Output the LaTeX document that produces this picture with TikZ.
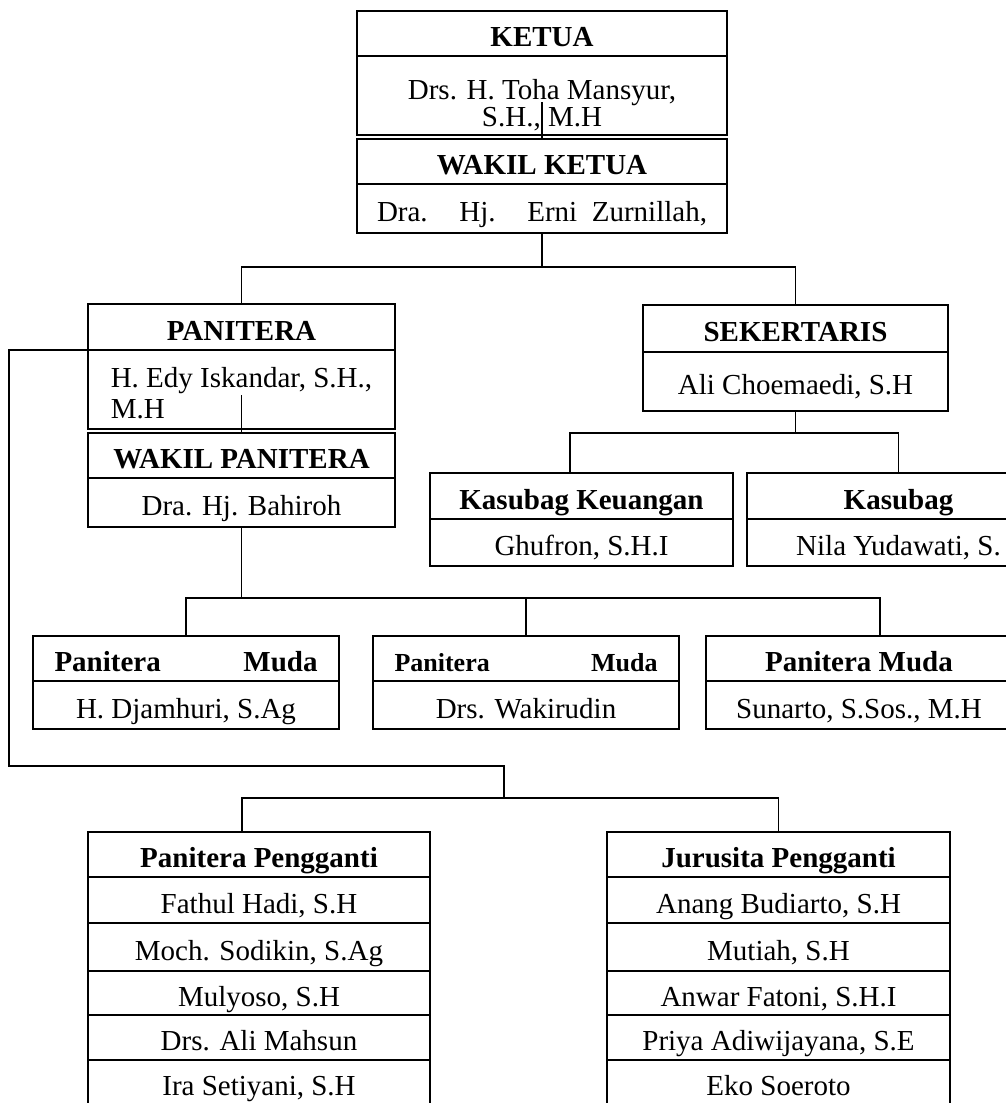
\documentclass[tikz,border=0pt]{standalone}
\usepackage{fontspec}
\setmainfont{Liberation Serif}
\usetikzlibrary{positioning}

\tikzset{
  base/.style={draw,line width=0.9pt,outer sep=0pt,inner sep=0pt,align=center,font=\fontsize{14.5}{15}\selectfont},
  cell/.style={base,text height=13pt,text depth=0pt},
  head/.style={cell,font=\fontsize{14.5}{15}\selectfont\bfseries},
  link/.style={line width=0.9pt},
}

\begin{document}
\begin{tikzpicture}[x=0.5pt,y=-0.5pt]
        \useasboundingbox (0,0) rectangle (1006,1103);
        \clip (0,0) rectangle (1006,1103);

        % ketua dan wakil ketua
        \node[head,anchor=north west,minimum width=185pt,minimum height=22.5pt] (ketua) at (357,11) {KETUA};
        \node[base,minimum width=185pt,minimum height=39.5pt,below=0pt of ketua,font=\fontsize{14.5}{13.5}\selectfont] (ketuaNama) {\rule{0pt}{20pt}Drs. H. Toha Mansyur,\\S.H., M.H};
        \node[head,minimum width=185pt,minimum height=22.5pt,below=2pt of ketuaNama] (wakil) {WAKIL KETUA};
        \node[cell,minimum width=185pt,minimum height=24.5pt,below=0pt of wakil] (wakilNama) {\makebox[165pt][s]{Dra. Hj. Erni Zurnillah,}};

        % panitera dan wakil panitera
        \node[head,anchor=north west,minimum width=153.5pt,minimum height=23pt] (panitera) at (88,304) {PANITERA};
        \node[base,align=left,minimum width=153.5pt,minimum height=39.5pt,below=0pt of panitera,font=\fontsize{14.5}{15.5}\selectfont] (paniteraNama) {\rule{0pt}{14pt}H. Edy Iskandar, S.H.,\\M.H};
        \node[head,minimum width=153.5pt,minimum height=22.5pt,below=2pt of paniteraNama] (wakpan) {WAKIL PANITERA};
        \node[cell,minimum width=153.5pt,minimum height=24.5pt,below=0pt of wakpan] (wakpanNama) {Dra. Hj. Bahiroh};

        % sekertaris
        \node[head,anchor=north west,minimum width=152.5pt,minimum height=23.5pt] (sekretaris) at (643,305) {SEKERTARIS};
        \node[cell,minimum width=152.5pt,minimum height=29.5pt,below=0pt of sekretaris] (sekretarisNama) {Ali Choemaedi, S.H};

        % kasubag
        \node[head,anchor=north west,minimum width=151.5pt,minimum height=23pt] (keuangan) at (430,473) {Kasubag Keuangan};
        \node[cell,minimum width=151.5pt,minimum height=23.5pt,below=0pt of keuangan] (keuanganNama) {Ghufron, S.H.I};
        \node[head,anchor=north west,minimum width=151.5pt,minimum height=23pt] (kasubag) at (747,473) {Kasubag};
        \node[cell,minimum width=151.5pt,minimum height=23.5pt,below=0pt of kasubag] (kasubagNama) {Nila Yudawati, S.};

        % panitera muda
        \node[head,anchor=north west,minimum width=153pt,minimum height=22.5pt] (muda1) at (33,636) {\makebox[131.5pt]{Panitera\hfill Muda}};
        \node[cell,minimum width=153pt,minimum height=24pt,below=0pt of muda1] (muda1Nama) {H. Djamhuri, S.Ag};
        \node[head,anchor=north west,minimum width=153pt,minimum height=22.5pt,font=\fontsize{13}{14}\selectfont\bfseries] (muda2) at (373,636) {\makebox[131.5pt]{Panitera\hfill Muda}};
        \node[cell,minimum width=153pt,minimum height=24pt,below=0pt of muda2] (muda2Nama) {Drs. Wakirudin};
        \node[head,anchor=north west,minimum width=153pt,minimum height=22.5pt] (muda3) at (706,636) {Panitera Muda};
        \node[cell,minimum width=153pt,minimum height=24pt,below=0pt of muda3] (muda3Nama) {Sunarto, S.Sos., M.H};

        % panitera pengganti
        \node[head,anchor=north west,minimum width=171pt,minimum height=22.5pt] (pengganti) at (88,832) {Panitera Pengganti};
        \node[cell,minimum width=171pt,minimum height=23pt,below=0pt of pengganti] (pp1) {Fathul Hadi, S.H};
        \node[cell,minimum width=171pt,minimum height=24pt,below=0pt of pp1] (pp2) {Moch. Sodikin, S.Ag};
        \node[cell,minimum width=171pt,minimum height=22pt,below=0pt of pp2] (pp3) {Mulyoso, S.H};
        \node[cell,minimum width=171pt,minimum height=22.5pt,below=0pt of pp3] (pp4) {Drs. Ali Mahsun};
        \node[cell,minimum width=171pt,minimum height=22.5pt,below=0pt of pp4] (pp5) {Ira Setiyani, S.H};

        % jurusita pengganti
        \node[head,anchor=north west,minimum width=171.5pt,minimum height=22.5pt] (jurusita) at (607,832) {Jurusita Pengganti};
        \node[cell,minimum width=171.5pt,minimum height=23pt,below=0pt of jurusita] (js1) {Anang Budiarto, S.H};
        \node[cell,minimum width=171.5pt,minimum height=24pt,below=0pt of js1] (js2) {Mutiah, S.H};
        \node[cell,minimum width=171.5pt,minimum height=22pt,below=0pt of js2] (js3) {Anwar Fatoni, S.H.I};
        \node[cell,minimum width=171.5pt,minimum height=22.5pt,below=0pt of js3] (js4) {Priya Adiwijayana, S.E};
        \node[cell,minimum width=171.5pt,minimum height=22.5pt,below=0pt of js4] (js5) {Eko Soeroto};

        % garis
        \coordinate (ketuaTurun) at (542,102);
        \coordinate (cabang1) at (542,267);
        \draw[link] (ketuaTurun) -- (wakil.north);
        \draw[link] (wakilNama.south) -- (cabang1);
        \draw[link] (panitera.north) |- (cabang1) -| (sekretaris.north);

        \coordinate (paniteraTurun) at (241.5,395);
        \coordinate (cabang2) at (241.5,598);
        \draw[link] (paniteraTurun) -- (wakpan.north);
        \draw[link] (wakpanNama.south) -- (cabang2);
        \draw[link] (muda1.north) |- (cabang2) -| ([xshift=10.5pt]muda3.north);
        \draw[link] (muda2.north) -- (muda2.north |- cabang2);

        \coordinate (cabang3) at (795.5,433);
        \draw[link] (sekretarisNama.south) -- (cabang3);
        \draw[link] ([xshift=-5.75pt]keuangan.north) |- (cabang3) -| (kasubag.north);

        \coordinate (bingkai) at (9,766);
        \coordinate (cabang4) at (504,798);
        \draw[link] (panitera.south west) -| (bingkai) -| (cabang4);
        \draw[link] ([xshift=-8.5pt]pengganti.north) |- (cabang4) -| (jurusita.north);
\end{tikzpicture}
\end{document}
